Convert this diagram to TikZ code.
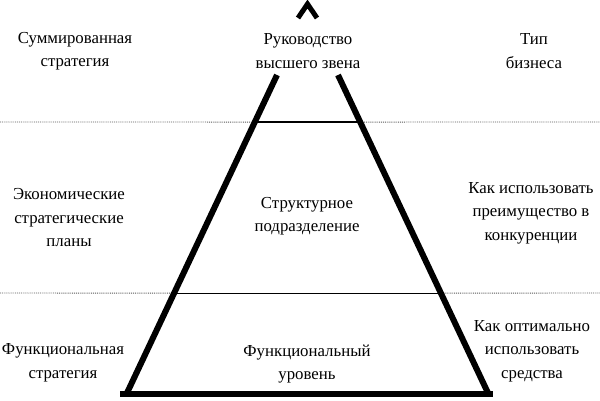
\documentclass[tikz,border=0pt]{standalone}
\usepackage{fontspec}
\setmainfont{Liberation Serif}
\usetikzlibrary{calc}
\begin{document}
\begin{tikzpicture}[x=1pt,y=-1pt,
  lbl/.style={align=center,font=\fontsize{16.8}{23.5}\selectfont,inner sep=0pt},
  side/.style={line width=6pt},
  inner/.style={line width=1.2pt},
  sep/.style={line width=0.9pt,densely dotted,gray!70!black}]
\useasboundingbox (0,0) rectangle (600,401);
\fill[white] (0,0) rectangle (600,401);
% pyramid corners
\coordinate (tl) at (277,75);
\coordinate (tr) at (338,75);
\coordinate (bl) at (127,393);
\coordinate (br) at (488,393);
\coordinate (l1) at ($(tl)!0.148!(bl)$);
\coordinate (r1) at ($(tr)!0.148!(br)$);
\coordinate (l2) at ($(tl)!0.686!(bl)$);
\coordinate (r2) at ($(tr)!0.686!(br)$);
\coordinate (w1) at (0,122);
\coordinate (e1) at (600,122);
\coordinate (w2) at (0,293);
\coordinate (e2) at (600,293);
\coordinate (bbl) at (120,394);
\coordinate (bbr) at (493,394);
% separators
\draw[sep] (w1) -- (l1);
\draw[sep] (r1) -- (e1);
\draw[sep] (w2) -- (l2);
\draw[sep] (r2) -- (e2);
\draw[inner] (l1) -- (r1);
\draw[inner] (l2) -- (r2);
% sides
\draw[side] (tl) -- (bl);
\draw[side] (tr) -- (br);
\draw[side] (bbl) -- (bbr);
% caret
\coordinate (c1) at (298,18);
\coordinate (c2) at (307.5,4);
\coordinate (c3) at (317,18);
\draw[line width=5pt,line join=miter] (c1) -- (c2) -- (c3);
% labels
\node[lbl] (a1) at (75,51) {Суммированная\\стратегия};
\node[lbl] (a2) at (308,51) {Руководство\\высшего звена};
\node[lbl] (a3) at (534,51) {Тип\\бизнеса};
\node[lbl] (b1) at (69,218) {Экономические\\стратегические\\планы};
\node[lbl] (b2) at (307,216) {Структурное\\подразделение};
\node[lbl] (b3) at (531,213) {Как использовать\\преимущество в\\конкуренции};
\node[lbl] (d1) at (63,363) {Функциональная\\стратегия};
\node[lbl] (d2) at (307,364) {Функциональный\\уровень};
\node[lbl] (d3) at (532,351) {Как оптимально\\использовать\\средства};
\end{tikzpicture}
\end{document}
